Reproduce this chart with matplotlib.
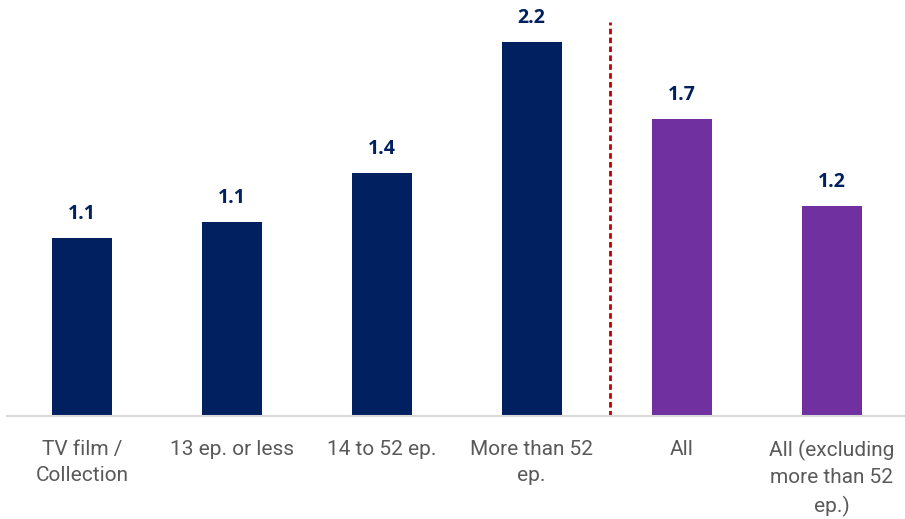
import matplotlib
matplotlib.use('Agg')
import matplotlib.pyplot as plt

categories = ['TV film /\nCollection', '13 ep. or less', '14 to 52 ep.',
              'More than 52\nep.', 'All', 'All (excluding\nmore than 52\nep.)']
values = [1.05, 1.14, 1.43, 2.2, 1.75, 1.235]
labels = ['1.1', '1.1', '1.4', '2.2', '1.7', '1.2']
colors = ['#002060', '#002060', '#002060', '#002060', '#7030A0', '#7030A0']

plt.rcParams['font.family'] = ['Roboto', 'DejaVu Sans']

fig = plt.figure(figsize=(9.05, 5.19), dpi=100)
ax = fig.add_axes([7/905, 103/519, 898/905, 416/519])

x = list(range(len(categories)))
ax.bar(x, values, width=0.4, color=colors, zorder=2)
for xi, v, lab in zip(x, values, labels):
    ax.annotate(lab, (xi, v), xytext=(0, 10), textcoords='offset points',
                ha='center', va='bottom', fontsize=14, fontweight='bold',
                color='#002060', family=['Open Sans', 'DejaVu Sans'])

ax.axvline(3.52, ymin=0, ymax=(416-22)/416, color='#C00000', linestyle=(0, (2, 1.2)),
           linewidth=2, zorder=1)

ax.set_xlim(-0.5, 5.49)
ax.set_ylim(0, 416/170)
ax.set_xticks(x)
ax.set_xticklabels(categories, fontsize=15, color='#595959', linespacing=1.5)
ax.tick_params(axis='x', length=0, pad=17)
ax.set_yticks([])
for s in ['top', 'right', 'left']:
    ax.spines[s].set_visible(False)
ax.spines['bottom'].set_color('#D9D9D9')
ax.spines['bottom'].set_linewidth(1.5)

fig.savefig('out.png', dpi=100)
